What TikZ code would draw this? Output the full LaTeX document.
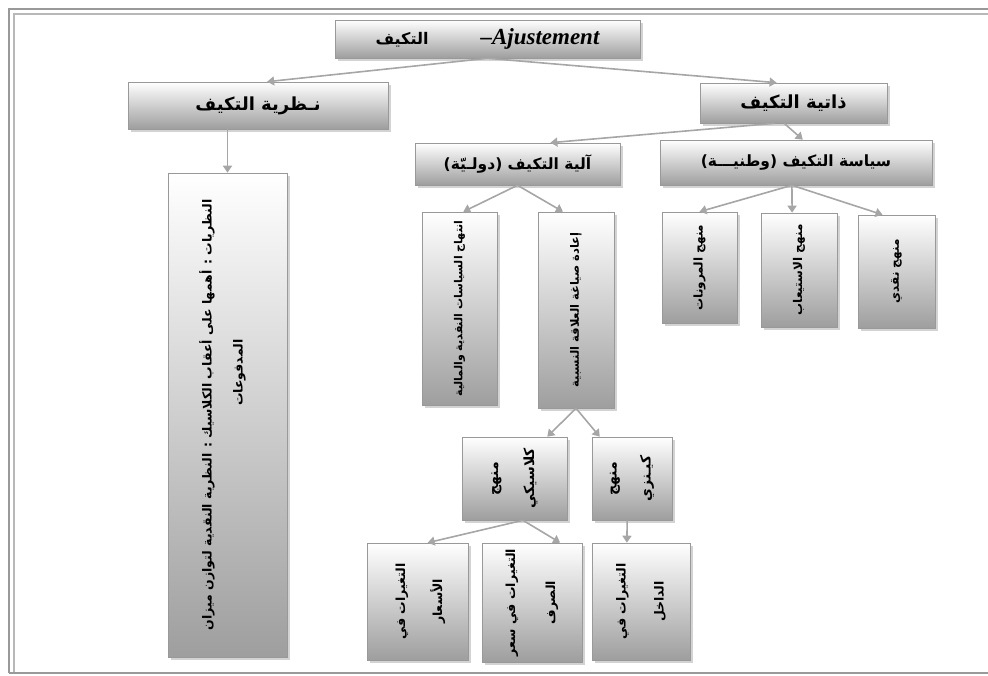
\documentclass[tikz,border=0pt]{standalone}
\usepackage{fontspec}
\TeXXeTstate=1
\newfontfamily\arabicfont[Script=Arabic]{DejaVu Sans}
\newfontfamily\titlefont{Liberation Serif}
\usetikzlibrary{arrows.meta,shadows,calc}
\newcommand{\rtltext}[1]{\beginR #1\endR}
\newcommand{\arsize}[2]{\arabicfont\bfseries\fontsize{#1}{#2}\selectfont}
\tikzset{
  box/.style={draw=black!40, line width=0.6pt, top color=white, bottom color=black!38,
    drop shadow={shadow xshift=2.5pt,shadow yshift=-2.5pt,opacity=0.35},
    inner sep=0pt, font=\arabicfont\bfseries},
  vtext/.style={rotate=90, align=center, inner sep=0pt},
  conn/.style={draw=black!35, line width=1.6pt, -{Triangle[width=9pt,length=7pt]}},
  frameout/.style={draw=black!40, line width=1.3pt},
  framein/.style={draw=black!28, line width=1.1pt}
}
\begin{document}
\begin{tikzpicture}[x=1pt,y=-1pt]
\useasboundingbox (0,0) rectangle (988,675);
% frame
\draw[frameout] (9,673) -- (9,9) -- (988,9);
\draw[framein] (14,673) -- (14,14) -- (988,14);
\draw[frameout] (9,673) -- (988,673);

% horizontal boxes
\node[box, minimum width=305pt, minimum height=38pt] (title) at (487.5,39)
  {{\arabicfont\bfseries\upshape\fontsize{16}{20}\selectfont\rtltext{التكيف}}\hspace{52pt}{\titlefont\bfseries\itshape\fontsize{23}{26}\selectfont–Ajustement}};
\node[box, minimum width=260pt, minimum height=47pt, font=\arsize{18}{22}] (nazar) at (258,105.5)
  {\rtltext{نـظرية التكيف}};
\node[box, minimum width=187pt, minimum height=40pt, font=\arsize{18}{22}] (dhatiya) at (793.5,103)
  {\rtltext{ذاتية التكيف}};
\node[box, minimum width=272pt, minimum height=45pt, font=\arsize{15.5}{18}] (siyasa) at (796,162.5)
  {\rtltext{سياسة التكيف (وطنيـــة)}};
\node[box, minimum width=205pt, minimum height=42pt, font=\arsize{15.5}{18}] (aliya) at (517.5,164)
  {\rtltext{آلية التكيف (دولـيّة)}};

% vertical boxes
\node[box, minimum width=119pt, minimum height=484pt] (longbox) at (227.5,415) {};
\node[vtext, align=right, font=\arsize{12.5}{31}] (longtext) at ([xshift=-5pt]longbox.center)
  {\rtltext{النظريات : أهمها على أعقاب الكلاسيك : النظرية النقدية لتوازن ميزان}\\
   \rtltext{المدفوعات}\rule{140pt}{0pt}};

\node[box, minimum width=75pt, minimum height=193pt] (intihaj) at (459.5,308.5) {};
\node[vtext, font=\arsize{11}{14}] (intihajtext) at (intihaj.center)
  {\rtltext{انتهاج السياسات النقدية والمالية}};

\node[box, minimum width=76pt, minimum height=196pt] (iada) at (576,310) {};
\node[vtext, font=\arsize{11.5}{14}] (iadatext) at (iada.center)
  {\rtltext{إعادة صياغة العلاقة النسبية}};

\node[box, minimum width=75pt, minimum height=111pt] (marunat) at (699.5,267.5) {};
\node[vtext, font=\arsize{12}{14}] (marunattext) at (marunat.center)
  {\rtltext{منهج المرونات}};

\node[box, minimum width=76pt, minimum height=114pt] (istiab) at (799,270) {};
\node[vtext, font=\arsize{12}{14}] (istiabtext) at (istiab.center)
  {\rtltext{منهج الاستيعاب}};

\node[box, minimum width=77pt, minimum height=113pt] (naqdi) at (896.5,271.5) {};
\node[vtext, font=\arsize{12}{14}] (naqditext) at (naqdi.center)
  {\rtltext{منهج نقدي}};

\node[box, minimum width=105pt, minimum height=83pt] (klasik) at (514.5,478.5) {};
\node[vtext, font=\arsize{14}{36}] (klasiktext) at (klasik.center)
  {\rtltext{منهج}\\\rtltext{كلاسيكي}};

\node[box, minimum width=80pt, minimum height=83pt] (keynes) at (632,478.5) {};
\node[vtext, font=\arsize{14}{34}] (keynestext) at (keynes.center)
  {\rtltext{منهج}\\\rtltext{كيـنزي}};

\node[box, minimum width=101pt, minimum height=117pt] (asaar) at (417.5,601.5) {};
\node[vtext, font=\arsize{12.5}{37}] (asaartext) at ([xshift=3pt]asaar.center)
  {\rtltext{التغيرات في}\\\rtltext{الأسعار}};

\node[box, minimum width=100pt, minimum height=119pt] (sarf) at (532,602.5) {};
\node[vtext, font=\arsize{12.5}{40}] (sarftext) at (sarf.center)
  {\rtltext{التغيرات في سعر}\\\rtltext{الصرف}};

\node[box, minimum width=98pt, minimum height=117pt] (dakhil) at (641,601.5) {};
\node[vtext, font=\arsize{12.5}{38}] (dakhiltext) at (dakhil.center)
  {\rtltext{التغيرات في}\\\rtltext{الداخل}};

% connectors
\draw[conn] (title.south) -- ($(nazar.north west)!0.535!(nazar.north east)$);
\draw[conn] (title.south) -- ($(dhatiya.north west)!0.41!(dhatiya.north east)$);
\draw[conn] (nazar.south -| longbox.north) -- (longbox.north);
\draw[conn] ($(dhatiya.south west)!0.45!(dhatiya.south east)$) -- ($(siyasa.north west)!0.525!(siyasa.north east)$);
\draw[conn] ($(dhatiya.south west)!0.40!(dhatiya.south east)$) -- ($(aliya.north west)!0.66!(aliya.north east)$);
\draw[conn] ($(siyasa.south west)!0.485!(siyasa.south east)$) -- ($(marunat.north west)!0.5!(marunat.north east)$);
\draw[conn] ($(siyasa.south west)!0.485!(siyasa.south east)$) -- ($(istiab.north west)!0.41!(istiab.north east)$);
\draw[conn] ($(siyasa.south west)!0.485!(siyasa.south east)$) -- ($(naqdi.north west)!0.32!(naqdi.north east)$);
\draw[conn] (aliya.south) -- ($(intihaj.north west)!0.55!(intihaj.north east)$);
\draw[conn] (aliya.south) -- ($(iada.north west)!0.33!(iada.north east)$);
\draw[conn] (iada.south) -- ($(klasik.north west)!0.81!(klasik.north east)$);
\draw[conn] (iada.south) -- ($(keynes.north west)!0.1!(keynes.north east)$);
\draw[conn] ($(klasik.south west)!0.58!(klasik.south east)$) -- ($(asaar.north west)!0.6!(asaar.north east)$);
\draw[conn] ($(klasik.south west)!0.58!(klasik.south east)$) -- ($(sarf.north west)!0.78!(sarf.north east)$);
\draw[conn] ($(keynes.south west)!0.44!(keynes.south east)$) -- ($(dakhil.north west)!0.357!(dakhil.north east)$);
\end{tikzpicture}
\end{document}
